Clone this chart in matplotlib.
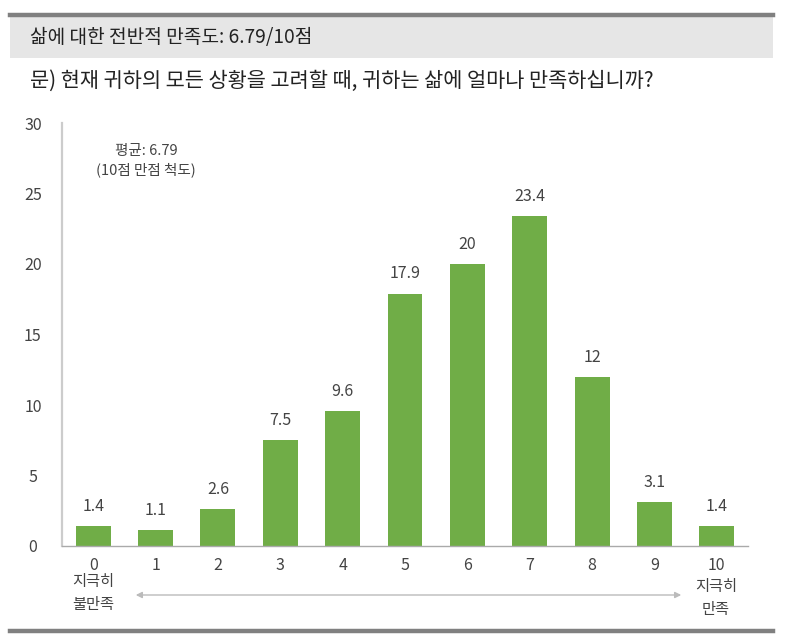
import matplotlib
matplotlib.use("Agg")
import matplotlib.pyplot as plt
from matplotlib.patches import Rectangle, FancyArrowPatch
from matplotlib.lines import Line2D

plt.rcParams['font.family'] = ['Noto Sans CJK KR', 'DejaVu Sans']

categories = [0, 1, 2, 3, 4, 5, 6, 7, 8, 9, 10]
values = [1.4, 1.1, 2.6, 7.5, 9.6, 17.9, 20, 23.4, 12, 3.1, 1.4]
value_labels = ["1.4", "1.1", "2.6", "7.5", "9.6", "17.9", "20", "23.4", "12", "3.1", "1.4"]
yticks = [0, 5, 10, 15, 20, 25, 30]
header = "삶에 대한 전반적 만족도: 6.79/10점"
question = "문) 현재 귀하의 모든 상황을 고려할 때, 귀하는 삶에 얼마나 만족하십니까?"
note = "평균: 6.79\n(10점 만점 척도)"
left_label = "지극히\n불만족"
right_label = "지극히\n만족"

W, H = 787, 642
fig = plt.figure(figsize=(W / 100, H / 100), dpi=100)

def fx(px):
    return px / W

def fy(py):
    return 1 - py / H

# header band
fig.add_artist(Rectangle((fx(10), fy(58)), fx(763), (58 - 16) / H, transform=fig.transFigure,
                         facecolor="#e6e6e6", edgecolor="none"))
fig.add_artist(Line2D([fx(10), fx(773)], [fy(14.5), fy(14.5)], transform=fig.transFigure,
                      color="#808080", lw=3.2))
fig.add_artist(Line2D([fx(10), fx(773)], [fy(630.5), fy(630.5)], transform=fig.transFigure,
                      color="#808080", lw=3.2))
fig.text(fx(30), fy(38), header, fontsize=13.8, color="#222222", va="center", ha="left")
fig.text(fx(30), fy(81), question, fontsize=15, color="#222222", va="center", ha="left")

ax = fig.add_axes([fx(62), fy(546), fx(748 - 62), (546 - 123) / H])
ax.bar(categories, values, width=0.56, color="#70ad47", zorder=2)
ax.set_xlim(-0.5, 10.5)
ax.set_ylim(0, 30)
ax.set_yticks(yticks)
ax.set_xticks(categories)
ax.set_xticklabels([str(c) for c in categories])
ax.tick_params(axis='both', length=0, colors="#444444", labelsize=11.5)
ax.tick_params(axis='y', pad=12)
ax.tick_params(axis='x', pad=8)
for lab in ax.get_yticklabels():
    lab.set_horizontalalignment('center')
    lab.set_x(-0.018)
for s in ["top", "right"]:
    ax.spines[s].set_visible(False)
ax.spines["left"].set_color("#cccccc")
ax.spines["left"].set_linewidth(1.6)
ax.spines["bottom"].set_color("#aaaaaa")
ax.spines["bottom"].set_linewidth(1.0)

for c, v, t in zip(categories, values, value_labels):
    ax.annotate(t, (c, v), xytext=(0, 8), textcoords="offset points",
                ha="center", va="bottom", fontsize=11.5, color="#444444")

ax.text(0.85, 27.35, note, ha="center", va="center", fontsize=10.5, color="#444444",
        linespacing=1.4, fontweight="medium")

# bottom labels and arrow
fig.text(fx(93), fy(593), left_label, ha="center", va="center", fontsize=11,
         color="#444444", linespacing=1.4)
fig.text(fx(716), fy(598), right_label, ha="center", va="center", fontsize=11,
         color="#444444", linespacing=1.4)
fig.add_artist(FancyArrowPatch(
    (fx(133), fy(595)), (fx(684), fy(595)), transform=fig.transFigure,
    arrowstyle="<|-|>", mutation_scale=9, color="#bbbbbb", lw=1.0))

fig.savefig("out.png", dpi=100)
